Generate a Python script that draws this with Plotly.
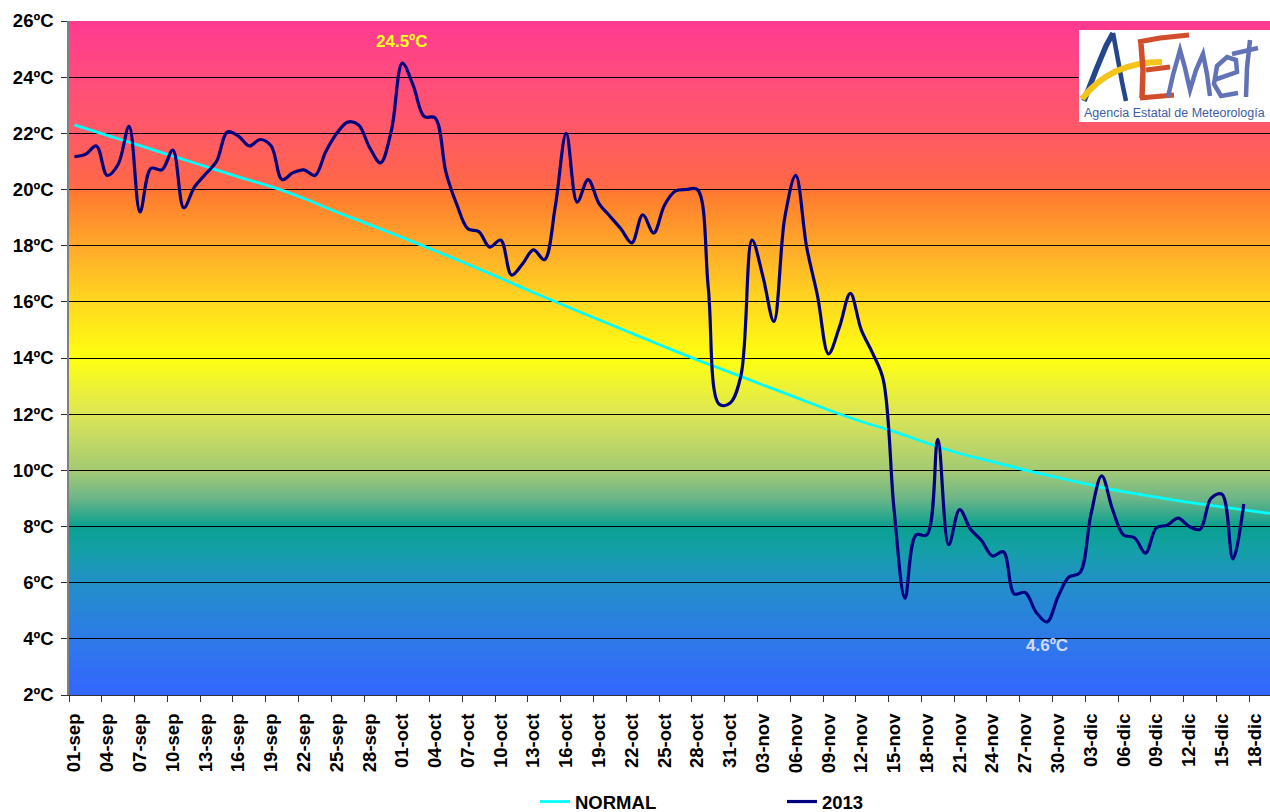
import plotly.graph_objects as go

# ---------------- data ----------------
tick_labels = ["01-sep", "04-sep", "07-sep", "10-sep", "13-sep", "16-sep", "19-sep",
               "22-sep", "25-sep", "28-sep", "01-oct", "04-oct", "07-oct", "10-oct",
               "13-oct", "16-oct", "19-oct", "22-oct", "25-oct", "28-oct", "31-oct",
               "03-nov", "06-nov", "09-nov", "12-nov", "15-nov", "18-nov", "21-nov",
               "24-nov", "27-nov", "30-nov", "03-dic", "06-dic", "09-dic", "12-dic",
               "15-dic", "18-dic"]

# daily mean temperature 2013, from 01-sep (day 0) to 17-dic
t2013 = [21.17, 21.25, 21.55, 20.5, 20.9, 22.25, 19.2, 20.75, 20.7, 21.4,
         19.35, 20.1, 20.55, 21.0, 22.05, 21.9, 21.55, 21.78, 21.55, 20.35,
         20.6, 20.7, 20.5, 21.35, 22.0, 22.4, 22.3, 21.5, 20.95, 22.1,
         24.5, 23.7, 22.6, 22.55, 20.6, 19.45, 18.6, 18.5, 17.95, 18.2,
         16.95, 17.35, 17.85, 17.5, 19.4, 22.0, 19.55, 20.35, 19.5, 19.05,
         18.6, 18.1, 19.1, 18.45, 19.45, 19.95, 20.0, 20.0, 16.5, 12.35,
         12.4, 13.4, 18.2, 16.9, 15.3, 19.0, 20.5, 17.95, 16.2, 14.15,
         15.1, 16.3, 15.0, 14.2, 13.25, 8.6, 5.45, 7.7, 7.7, 11.1,
         7.35, 8.6, 7.9, 7.5, 6.95, 7.1, 5.6, 5.65, 4.95, 4.6,
         5.5, 6.2, 6.35, 8.4, 9.8, 8.6, 7.7, 7.6, 7.05, 7.95,
         8.05, 8.3, 8.0, 7.9, 9.0, 9.15, 6.85, 8.8]

# normal values, read every 3 days from 01-sep (day 0, 3, 6, ...)
normal = [22.30, 21.93, 21.56, 21.19, 20.82, 20.45, 20.10, 19.68, 19.20, 18.75,
          18.29, 17.82, 17.34, 16.84, 16.33, 15.84, 15.36, 14.88, 14.40, 13.93,
          13.49, 13.04, 12.60, 12.15, 11.74, 11.38, 10.97, 10.60, 10.31, 10.01,
          9.74, 9.48, 9.24, 9.05, 8.86, 8.70, 8.54, 8.39]

y_ticks = list(range(2, 27, 2))
max_label = "24.5ºC"
min_label = "4.6ºC"

# ---------------- helpers ----------------
days = list(range(len(t2013)))
normal_days = [3 * k for k in range(len(normal))]
tick_pos = [3 * k for k in range(len(tick_labels))]
max_i = max(range(len(t2013)), key=lambda i: t2013[i])
min_i = min(range(len(t2013)), key=lambda i: t2013[i])

FONT = "Liberation Sans"
W, H = 1270, 812
# plot area in page pixels
PL, PR, PT, PB = 69, 1270, 21, 695

# background colour stops (temperature -> colour)
stops = [(2, "#3366FF"), (4, "#2E7AE8"), (6, "#2290C8"), (7.2, "#14A0A6"),
         (8, "#0AA090"), (9, "#6CB688"), (10, "#A4CA74"), (12, "#DCE656"),
         (14, "#FFFF10"), (16, "#FFD820"), (18, "#FFA82A"), (19.9, "#FF7A30"),
         (20.1, "#FF6846"), (22, "#FF5A66"), (24, "#FF4C7C"), (26, "#FF3A92")]


def hex2rgb(h):
    h = h.lstrip("#")
    return tuple(int(h[i:i + 2], 16) for i in (0, 2, 4))


def color_at(v):
    for (a, ca), (b, cb) in zip(stops[:-1], stops[1:]):
        if a <= v <= b:
            f = (v - a) / (b - a)
            r1, g1, b1 = hex2rgb(ca)
            r2, g2, b2 = hex2rgb(cb)
            return "rgb(%d,%d,%d)" % (round(r1 + (r2 - r1) * f),
                                      round(g1 + (g2 - g1) * f),
                                      round(b1 + (b2 - b1) * f))
    return stops[-1][1]


shapes = []
n = 240
lo, hi = 2.0, 26.0
step = (hi - lo) / n
for k in range(n):
    y0 = lo + k * step
    # each band reaches the top; the next one covers it -> no seams
    shapes.append(dict(type="rect", xref="x domain", yref="y", x0=0, x1=1,
                       y0=y0, y1=hi, fillcolor=color_at(y0 + step / 2),
                       line=dict(width=0), layer="below"))


def px(x):
    return (x - PL) / (PR - PL)


def py(y):
    return (PB - y) / (PB - PT)


def path(pts):
    s = "M %f,%f " % (px(pts[0][0]), py(pts[0][1]))
    for p in pts[1:]:
        s += "L %f,%f " % (px(p[0]), py(p[1]))
    return s


def stroke(pts, color, width):
    shapes.append(dict(type="path", xref="paper", yref="paper", path=path(pts),
                       line=dict(color=color, width=width), layer="above"))


# ---------------- logo (decoration) ----------------
shapes.append(dict(type="rect", xref="paper", yref="paper",
                   x0=px(1079), x1=px(1275), y0=py(122), y1=py(30),
                   fillcolor="white", line=dict(width=0), layer="above"))
blue_a = "#24478C"
red_e = "#D24E2A"
purple = "#6272B6"
# A
stroke([(1084, 101), (1096, 70), (1106, 46), (1113, 33)], blue_a, 5.5)
stroke([(1113, 33), (1118, 60), (1122, 82), (1126, 101)], blue_a, 4.5)
# swoosh
shapes.append(dict(type="path", xref="paper", yref="paper",
                   path="M %f,%f Q %f,%f %f,%f" % (px(1082), py(99), px(1110), py(62), px(1162), py(62)),
                   line=dict(color="#F4C41A", width=6), layer="above"))
# E
stroke([(1141, 44), (1143, 70), (1142, 98)], red_e, 5.5)
stroke([(1138, 42), (1160, 38), (1189, 35)], red_e, 5)
stroke([(1146, 70), (1170, 67)], red_e, 5)
stroke([(1140, 98), (1174, 95)], red_e, 5)
# m e t
stroke([(1168, 97), (1173, 75), (1180, 50), (1185, 68), (1190, 90), (1196, 70),
        (1203, 54), (1207, 74), (1210, 96)], purple, 4.5)
stroke([(1214, 80), (1237, 72), (1236, 60), (1227, 57), (1217, 66), (1214, 84),
        (1221, 96), (1238, 93)], purple, 4.5)
stroke([(1250, 40), (1247, 68), (1246, 97)], purple, 4.5)
stroke([(1232, 54), (1258, 48)], purple, 4.5)

# ---------------- figure ----------------
fig = go.Figure()
fig.add_trace(go.Scatter(x=normal_days, y=normal, mode="lines", name="NORMAL",
                         line=dict(color="#00FFFF", width=2.8, shape="spline", smoothing=1)))
fig.add_trace(go.Scatter(x=days, y=t2013, mode="lines", name="2013",
                         line=dict(color="#000080", width=3.2, shape="spline", smoothing=1)))

annotations = [
    dict(x=max_i, y=26, xref="x", yref="y", text="<b>%s</b>" % max_label, showarrow=False,
         yshift=-20, font=dict(family=FONT, size=17, color="#FFFF22")),
    dict(x=min_i, y=t2013[min_i], xref="x", yref="y", text="<b>%s</b>" % min_label, showarrow=False,
         yshift=-24, font=dict(family=FONT, size=17, color="#D4D8F4")),
    dict(x=px(1174), y=py(113), xref="paper", yref="paper", text="Agencia Estatal de Meteorología",
         showarrow=False, xanchor="center", yanchor="middle",
         font=dict(family=FONT, size=12.5, color="#3D5CA2")),
]

fig.update_layout(
    width=W, height=H,
    margin=dict(l=PL, r=W - PR, t=PT, b=H - PB, pad=0),
    paper_bgcolor="white", plot_bgcolor="rgba(0,0,0,0)",
    font=dict(family=FONT, size=17, color="black"),
    shapes=shapes, annotations=annotations,
    showlegend=True,
    legend=dict(orientation="h", xref="container", yref="container",
                x=535 / W, y=1 - 802 / H, xanchor="left", yanchor="middle",
                entrywidth=202, entrywidthmode="pixels",
                font=dict(family=FONT, size=18.5, color="black", weight="bold"),
                bgcolor="rgba(0,0,0,0)"),
)

fig.update_xaxes(range=[-0.5, 109.4], tickmode="array", tickvals=tick_pos, ticktext=tick_labels,
                 tickangle=-90, ticks="", showgrid=False, zeroline=False,
                 showline=True, linecolor="#333333", linewidth=1.3,
                 tickfont=dict(family=FONT, size=18.5, color="black", weight="bold"),
                 minor=dict(tickmode="array", tickvals=[p - 0.5 for p in tick_pos] + [tick_pos[-1] + 2.5],
                            ticks="outside", ticklen=6, tickcolor="#333333", tickwidth=1, showgrid=False),
                 ticklabelstandoff=10)

fig.update_yaxes(range=[2, 26], tickmode="array", tickvals=y_ticks,
                 ticktext=["%dºC" % v for v in y_ticks],
                 ticks="outside", ticklen=6, tickcolor="#333333", tickwidth=1,
                 showgrid=True, gridcolor="black", gridwidth=1, zeroline=False,
                 showline=True, linecolor="#808080", linewidth=1.5,
                 tickfont=dict(family=FONT, size=18.5, color="black", weight="bold"),
                 ticklabelstandoff=4)

fig.write_html("out.html", config={"displayModeBar": False},
               post_script="document.body.style.margin='0px';"
                           "document.body.style.overflow='hidden';")
